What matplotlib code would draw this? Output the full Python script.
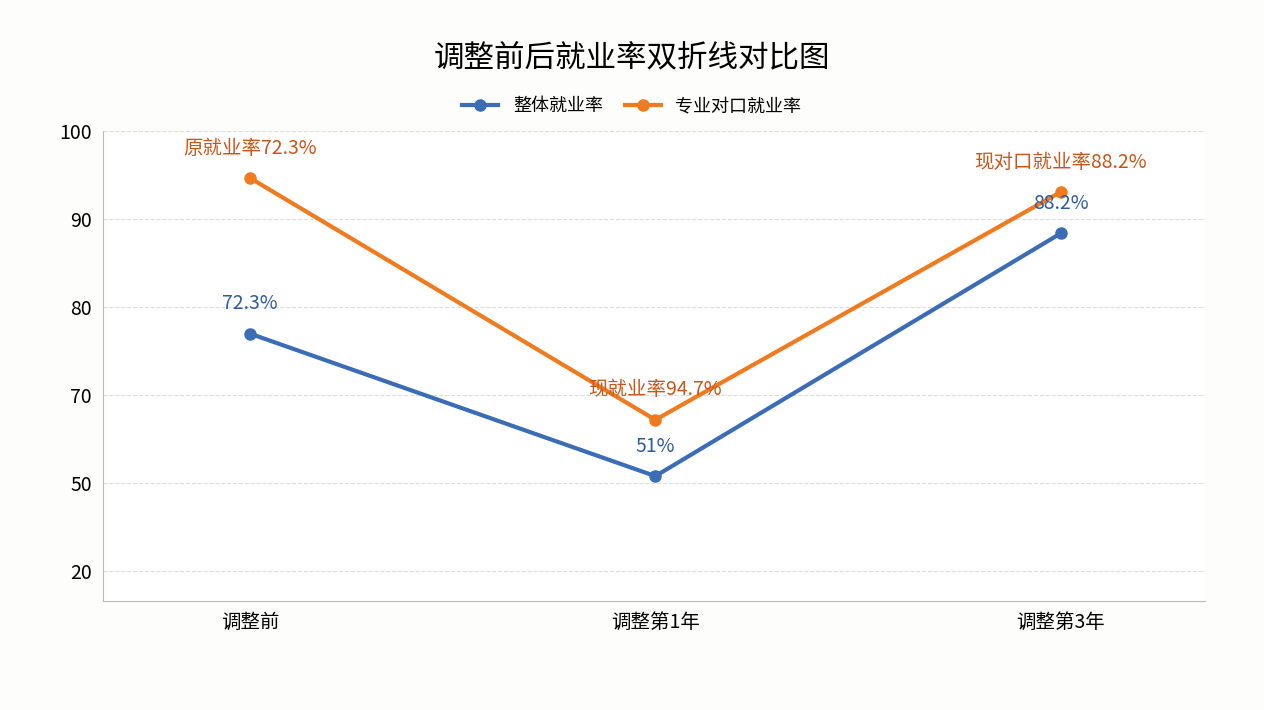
import matplotlib.pyplot as plt

plt.rcParams["font.family"] = ["Noto Sans CJK SC", "DejaVu Sans"]

# 数据（纵轴刻度不等距，按图中位置读取）
categories = ["调整前", "调整第1年", "调整第3年"]
overall = [77.0, 60.8, 88.4]
matched = [94.7, 67.2, 93.1]
overall_labels = ["72.3%", "51%", "88.2%"]
matched_labels = ["原就业率72.3%", "现就业率94.7%", "现对口就业率88.2%"]
ytick_pos = [100, 90, 80, 70, 60, 50]
ytick_labels = ["100", "90", "80", "70", "50", "20"]

blue = "#3a6db5"
orange = "#f07a1e"

fig = plt.figure(figsize=(12.64, 7.1), dpi=100)
fig.patch.set_facecolor("#fdfdfb")
ax = fig.add_axes([0.0815, 0.1535, 0.8715, 0.6615])
ax.set_facecolor("white")

x = list(range(len(categories)))
ax.plot(x, overall, color=blue, lw=3, marker="o", ms=8, label="整体就业率", zorder=3)
ax.plot(x, matched, color=orange, lw=3, marker="o", ms=8, label="专业对口就业率", zorder=3)

for i, (v, t) in enumerate(zip(overall, overall_labels)):
    ax.annotate(t, (i, v), xytext=(0, 14), textcoords="offset points",
                ha="center", va="bottom", color="#2e5d9e", fontsize=14)
for i, (v, t) in enumerate(zip(matched, matched_labels)):
    ax.annotate(t, (i, v), xytext=(0, 14), textcoords="offset points",
                ha="center", va="bottom", color="#c8561a", fontsize=14)

ax.set_xlim(-0.3625, 2.355)
ax.set_ylim(46.6, 100)
ax.set_xticks(x)
ax.set_xticklabels(categories, fontsize=14)
ax.set_yticks(ytick_pos)
ax.set_yticklabels(ytick_labels, fontsize=14)
ax.tick_params(length=0, pad=8)
ax.grid(axis="y", color="#dddddd", ls="--", lw=0.8)
for s in ["top", "right"]:
    ax.spines[s].set_visible(False)
for s in ["left", "bottom"]:
    ax.spines[s].set_color("#bbbbbb")

fig.text(0.5, 0.918, "调整前后就业率双折线对比图", ha="center", va="center", fontsize=22)
ax.legend(loc="lower center", bbox_to_anchor=(0.48, 1.0), ncol=2, frameon=False,
          fontsize=13, handlelength=2, columnspacing=1.2)

fig.savefig("out.png", dpi=100, facecolor=fig.get_facecolor())
